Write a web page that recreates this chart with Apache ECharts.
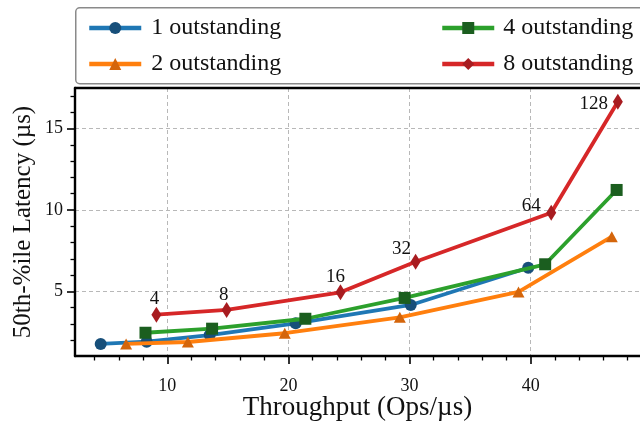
<!DOCTYPE html>
<html>
<head>
<meta charset="utf-8">
<script src="https://cdn.jsdelivr.net/npm/echarts@6/dist/echarts.min.js"></script>
<style>
html,body{margin:0;padding:0;background:#fff;}
#chart{width:640px;height:423px;}
</style>
</head>
<body>
<div id="chart"></div>
<script>
// ---- data ----
const seriesNames = ['1 outstanding', '2 outstanding', '4 outstanding', '8 outstanding'];
const out1 = [[4.5, 1.76], [8.3, 1.9], [13.5, 2.31], [20.6, 3.03], [30.1, 4.16], [39.8, 6.45]];
const out2 = [[6.6, 1.76], [11.7, 1.88], [19.7, 2.42], [29.2, 3.4], [39.0, 4.96], [46.7, 8.36]];
const out4 = [[8.2, 2.45], [13.7, 2.7], [21.4, 3.31], [29.6, 4.59], [41.2, 6.66], [47.1, 11.23]];
const out8 = [[9.1, 3.56], [14.9, 3.85], [24.3, 4.94], [30.5, 6.82], [41.7, 9.83], [47.2, 16.66]];
const out8Labels = ['4', '8', '16', '32', '64', '128'];
const xMajorTicks = [10, 20, 30, 40];
const xMinorTicks = [4, 6, 8, 12, 14, 16, 18, 22, 24, 26, 28, 32, 34, 36, 38, 42, 44, 46, 48];
const yMajorTicks = [5, 10, 15];
const yMinorTicks = [2, 3, 4, 6, 7, 8, 9, 11, 12, 13, 14, 16, 17];

// ---- style ----
const FONT = '"Liberation Serif", "DejaVu Serif", serif';
const labelOffsets = [[-2, -16], [-3, -15], [-5, -15], [-14, -13], [-20, -7], [-24, 2]];
const lineColors = ['#1f77b4', '#ff7f0e', '#2ca02c', '#d62728'];
const markColors = ['#174f7a', '#d4650b', '#1b5e1f', '#a81c20'];
const symbols = ['circle', 'triangle', 'rect', 'diamond'];
const symbolSizes = [12, [12, 11], 12, [10, 16]];
const X_MIN = 2.38, X_MAX = 49.03, Y_MIN = 1.02, Y_MAX = 17.5;

const chart = echarts.init(document.getElementById('chart'), null, {renderer: 'canvas'});

function mkSeries(i, data) {
  return {
    name: seriesNames[i],
    type: 'line',
    xAxisIndex: 0,
    yAxisIndex: 0,
    data: data,
    symbol: symbols[i],
    symbolSize: symbolSizes[i],
    showAllSymbol: true,
    lineStyle: {color: lineColors[i], width: 3.8},
    itemStyle: {color: markColors[i], borderWidth: 0},
    emphasis: {disabled: true},
    animation: false,
    z: 3 + i
  };
}

const s8 = mkSeries(3, out8.map((p, k) => ({
  value: p,
  label: {
    show: true,
    formatter: out8Labels[k],
    position: 'inside',
    offset: labelOffsets[k],
    color: '#111',
    fontFamily: FONT,
    fontSize: 19
  }
})));

const gridDash = {show: true, lineStyle: {color: '#b8b8b8', type: [4, 3], width: 1}};

function mkLegend(names, left, pad) {
  return {
    data: names,
    orient: 'vertical', left: left, top: 11,
    itemWidth: 52, itemHeight: 15, itemGap: 12,
    lineStyle: {width: 4.5},
    textStyle: {fontFamily: FONT, fontSize: 24, color: '#111', padding: [0, 0, 0, pad], lineHeight: 24},
    selectedMode: false
  };
}

const option = {
  backgroundColor: '#fff',
  animation: false,
  grid: {left: 75, right: 0, top: 88, bottom: 67, containLabel: false, outerBoundsMode: 'none'},
  legend: [
    mkLegend([seriesNames[0], seriesNames[1]], 82, 5),
    mkLegend([seriesNames[2], seriesNames[3]], 435, 4)
  ],
  graphic: [
    {type: 'rect', left: 75, top: 7, shape: {width: 580, height: 76, r: 4},
     style: {fill: 'rgba(255,255,255,0.9)', stroke: '#8a8a8a', lineWidth: 1.5}, z: -1}
  ],
  xAxis: [
    {
      type: 'value', min: X_MIN, max: X_MAX, position: 'bottom',
      name: 'Throughput (Ops/µs)', nameLocation: 'middle', nameGap: 38, nameMoveOverlap: false,
      nameTextStyle: {fontFamily: FONT, fontSize: 27, color: '#111'},
      axisLine: {show: true, lineStyle: {color: '#000', width: 2.4}},
      axisTick: {show: true, customValues: xMajorTicks, length: 8, lineStyle: {color: '#000', width: 1.6}},
      axisLabel: {show: true, customValues: xMajorTicks, margin: 21, fontFamily: FONT, fontSize: 18, color: '#111'},
      splitLine: gridDash
    },
    {
      type: 'value', min: X_MIN, max: X_MAX, position: 'bottom',
      axisLine: {show: false},
      axisTick: {show: true, customValues: xMinorTicks, length: 4.5, lineStyle: {color: '#000', width: 1.3}},
      axisLabel: {show: false},
      splitLine: {show: false}
    },
    {
      type: 'value', min: X_MIN, max: X_MAX, position: 'top',
      axisLine: {show: true, lineStyle: {color: '#000', width: 2.4}},
      axisTick: {show: false}, axisLabel: {show: false}, splitLine: {show: false}
    }
  ],
  yAxis: [
    {
      type: 'value', min: Y_MIN, max: Y_MAX, position: 'left',
      name: '50th-%ile Latency (µs)', nameLocation: 'middle', nameGap: 39, nameRotate: 90, nameMoveOverlap: false,
      nameTextStyle: {fontFamily: FONT, fontSize: 25, color: '#111'},
      axisLine: {show: true, lineStyle: {color: '#000', width: 2.4}},
      axisTick: {show: true, customValues: yMajorTicks, length: 8, lineStyle: {color: '#000', width: 1.6}},
      axisLabel: {show: true, customValues: yMajorTicks, margin: 12, fontFamily: FONT, fontSize: 18, color: '#111'},
      splitLine: gridDash
    },
    {
      type: 'value', min: Y_MIN, max: Y_MAX, position: 'left',
      axisLine: {show: false},
      axisTick: {show: true, customValues: yMinorTicks, length: 4.5, lineStyle: {color: '#000', width: 1.3}},
      axisLabel: {show: false},
      splitLine: {show: false}
    }
  ],
  series: [mkSeries(0, out1), mkSeries(1, out2), mkSeries(2, out4), s8]
};

chart.setOption(option);
</script>
</body>
</html>
